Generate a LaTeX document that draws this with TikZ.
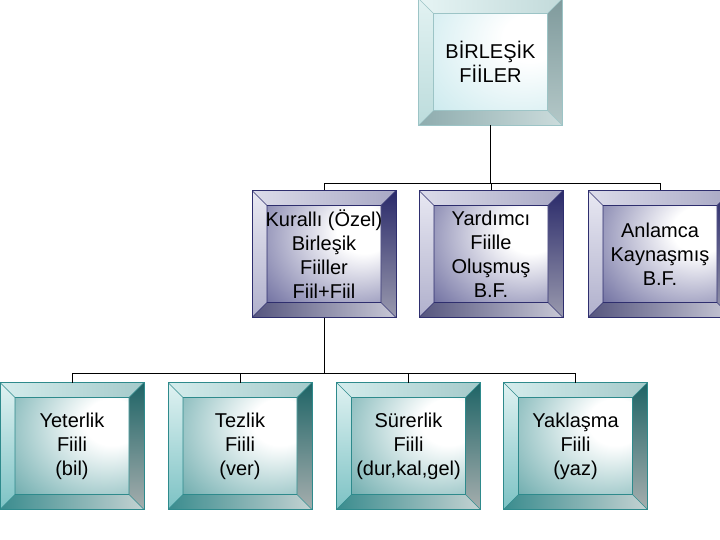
\documentclass[tikz,border=0pt]{standalone}
\usepackage{fontspec}
\setmainfont{Liberation Sans}
\usetikzlibrary{calc}

% Renkler
\definecolor{cyanLine}{HTML}{9CC4C6}
\definecolor{cyanFace}{HTML}{B4E0E6}
\definecolor{cyanTopA}{HTML}{E6F4F4}
\definecolor{cyanTopB}{HTML}{C2DADA}
\definecolor{cyanLeftA}{HTML}{E2F2F2}
\definecolor{cyanLeftB}{HTML}{BCDCDC}
\definecolor{cyanRightA}{HTML}{7F9A9C}
\definecolor{cyanRightB}{HTML}{B4C8C8}
\definecolor{cyanBotA}{HTML}{8EACAE}
\definecolor{cyanBotB}{HTML}{CCDCDC}

\definecolor{navyLine}{HTML}{2E2E6E}
\definecolor{navyFace}{HTML}{2C2C74}
\definecolor{navyTopA}{HTML}{DCDCEA}
\definecolor{navyTopB}{HTML}{A8A8C4}
\definecolor{navyLeftA}{HTML}{E8E8F2}
\definecolor{navyLeftB}{HTML}{B0B0CC}
\definecolor{navyRightA}{HTML}{2A2A6A}
\definecolor{navyRightB}{HTML}{9A9AAE}
\definecolor{navyBotA}{HTML}{55557E}
\definecolor{navyBotB}{HTML}{C8C8D6}

\definecolor{tealLine}{HTML}{2E8A8C}
\definecolor{tealFace}{HTML}{2A8587}
\definecolor{tealTopA}{HTML}{D4ECEC}
\definecolor{tealTopB}{HTML}{A4CACA}
\definecolor{tealLeftA}{HTML}{E0F2F2}
\definecolor{tealLeftB}{HTML}{7CC2C4}
\definecolor{tealRightA}{HTML}{1E6466}
\definecolor{tealRightB}{HTML}{A6AEAE}
\definecolor{tealBotA}{HTML}{3A8C8E}
\definecolor{tealBotB}{HTML}{C4D2D2}

\pgfdeclareradialshading{facecyan}{\pgfpoint{20bp}{14bp}}{color(0bp)=(white); color(12bp)=(white); color(66bp)=(cyanFace); color(100bp)=(cyanFace)}
\pgfdeclareradialshading{facenavy}{\pgfpoint{20bp}{14bp}}{color(0bp)=(white); color(12bp)=(white); color(66bp)=(navyFace); color(100bp)=(navyFace)}
\pgfdeclareradialshading{faceteal}{\pgfpoint{20bp}{14bp}}{color(0bp)=(white); color(12bp)=(white); color(66bp)=(tealFace); color(100bp)=(tealFace)}

\newcommand{\bevelpaint}[1]{%
  \coordinate (bNW) at (path picture bounding box.north west);
  \coordinate (bNE) at (path picture bounding box.north east);
  \coordinate (bSW) at (path picture bounding box.south west);
  \coordinate (bSE) at (path picture bounding box.south east);
  \coordinate (iNW) at ($(bNW)+(15pt,-15pt)$);
  \coordinate (iNE) at ($(bNE)+(-15pt,-15pt)$);
  \coordinate (iSW) at ($(bSW)+(15pt,15pt)$);
  \coordinate (iSE) at ($(bSE)+(-15pt,15pt)$);
  \shade[left color=#1TopA, right color=#1TopB] (bNW) -- (bNE) -- (iNE) -- (iNW) -- cycle;
  \shade[top color=#1LeftA, bottom color=#1LeftB] (bNW) -- (iNW) -- (iSW) -- (bSW) -- cycle;
  \shade[top color=#1RightA, bottom color=#1RightB] (bNE) -- (bSE) -- (iSE) -- (iNE) -- cycle;
  \shade[left color=#1BotA, right color=#1BotB] (bSW) -- (iSW) -- (iSE) -- (bSE) -- cycle;
  \shade[shading=face#1] (iNW) rectangle (iSE);
  \draw[#1Line, line width=0.6pt] (iNW) rectangle (iSE)
    (bNW) -- (iNW) (bNE) -- (iNE) (bSW) -- (iSW) (bSE) -- (iSE);
}

\tikzset{
  bevelbox/.style={draw=#1Line, line width=1pt, fill=white,
    minimum width=144pt, minimum height=127pt, inner sep=0pt, outer sep=0pt,
    align=center, font=\fontsize{20}{24}\selectfont,
    path picture={\bevelpaint{#1}}},
  bus/.style={line width=0.8pt}
}

\begin{document}
\begin{tikzpicture}[x=1pt, y=-1pt]
        \useasboundingbox (0,0) rectangle (720,540);

        % Kutular
        \node[bevelbox=cyan] (birlesik) at (490.5,62) {BİRLEŞİK\\FİİLER};

        \node[bevelbox=navy] (kuralli) at (324,254) {Kurallı (Özel)\\Birleşik\\Fiiller\\Fiil+Fiil};
        \node[bevelbox=navy] (yardimci) at (491,254) {Yardımcı\\Fiille\\Oluşmuş\\B.F.};
        \node[bevelbox=navy] (anlamca) at (660,254) {Anlamca\\Kaynaşmış\\B.F.};

        \node[bevelbox=teal] (yeterlik) at (72,446) {Yeterlik\\Fiili\\(bil)};
        \node[bevelbox=teal] (tezlik) at (240,446) {Tezlik\\Fiili\\(ver)};
        \node[bevelbox=teal] (surerlik) at (408.5,446) {Sürerlik\\Fiili\\(dur,kal,gel)};
        \node[bevelbox=teal] (yaklasma) at (575.5,446) {Yaklaşma\\Fiili\\(yaz)};

        % Bağlantılar
        \coordinate (ustHat) at (0,183);
        \coordinate (altHat) at (0,373);
        \draw[line width=1.5pt] (birlesik.south) -- (birlesik.south |- ustHat);
        \draw[bus] (kuralli.north) |- (anlamca.north |- ustHat) -- (anlamca.north);
        \draw[bus] (yardimci.north) -- (yardimci.north |- ustHat);

        \draw[bus] (kuralli.south) -- (kuralli.south |- altHat);
        \draw[bus] (yeterlik.north) |- (yaklasma.north |- altHat) -- (yaklasma.north);
        \draw[bus] (tezlik.north) -- (tezlik.north |- altHat);
        \draw[bus] (surerlik.north) -- (surerlik.north |- altHat);
    \end{tikzpicture}
\end{document}
